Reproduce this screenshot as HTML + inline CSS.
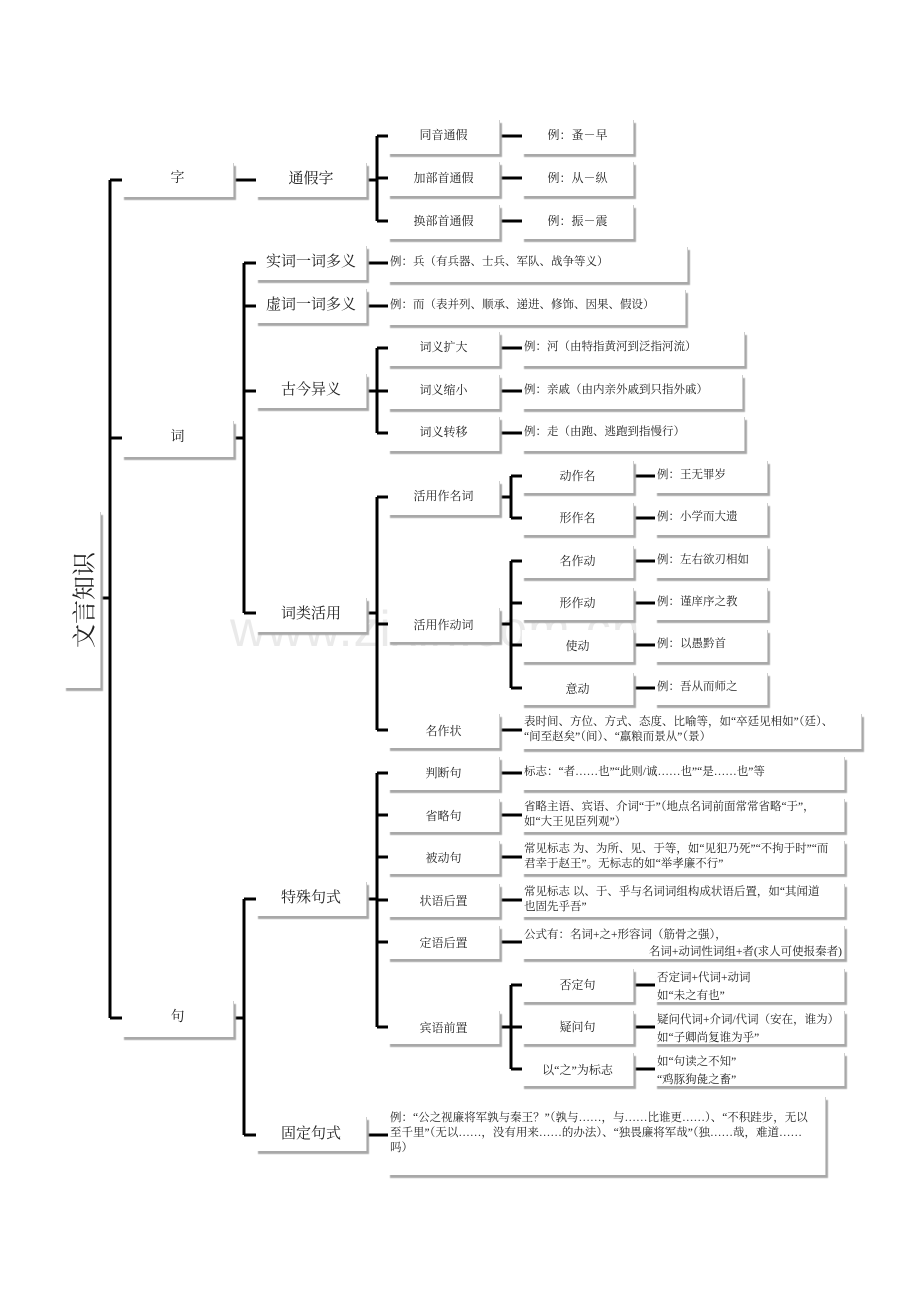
<!DOCTYPE html>
<html><head><meta charset="utf-8">
<style>
body{margin:0;background:#fff;}
#c{position:relative;width:920px;height:1302px;overflow:hidden;font-family:"Liberation Serif","Noto Serif CJK SC","Noto Sans CJK SC",serif;color:#222;}
.b{position:absolute;background:#fff;box-shadow:2px 3px 1px #a8a8a8;border-right:1px solid #ccc;box-sizing:border-box;font-size:12px;text-align:center;}
.l2{font-size:15px;}
.e{text-align:left;padding:1px 2px;line-height:15px;font-size:11.5px;}
svg{position:absolute;left:0;top:0;}
.wm{position:absolute;left:230px;top:600px;font-family:"Liberation Sans",sans-serif;font-size:50px;color:#000;opacity:0.08;letter-spacing:1px;}
</style></head><body><div id="c">
<svg width="920" height="1302"><g stroke="#000" stroke-width="3" fill="none">
<path d="M101 598H110M110 180V1018M110 180H122M110 438H122M110 1018H122"/>
<path d="M234 180H256M367 180H377M377 136V221M377 136H388M377 178H388M377 221H388M500 136H522M500 178H522M500 221H522"/>
<path d="M234 438H244M244 263V613M244 263H256M244 306H256M244 391H256M244 613H256M367 263H388M367 306H388"/>
<path d="M367 391H377M377 348V433M377 348H388M377 391H388M377 433H388M500 348H522M500 391H522M500 433H522"/>
<path d="M367 613H377M377 497V730M377 497H388M377 624H388M377 730H388M500 497H511M511 476V518M511 476H522M511 518H522M634 476H655M634 518H655"/>
<path d="M500 624H511M511 561V688M511 561H522M511 603H522M511 645H522M511 688H522M634 561H655M634 603H655M634 645H655M634 688H655M500 730H522"/>
<path d="M234 1018H244M244 899V1135M244 899H256M244 1135H256M367 899H377M377 773V1027M377 773H388M377 815H388M377 857H388M377 900H388M377 942H388M377 1027H388"/>
<path d="M500 773H522M500 815H522M500 857H522M500 900H522M500 942H522M500 1027H511M511 985V1069M511 985H522M511 1027H522M511 1069H522M634 985H655M634 1027H655M634 1069H655M367 1135H388"/>
</g></svg>
<div class="wm">www.zixin.com.cn</div>

<div class="b" style="left:64px;top:512px;width:37px;height:176px;"><div style="position:absolute;left:50%;top:50%;transform:translate(-50%,-50%) rotate(-90deg);font-size:24px;white-space:nowrap;">文言知识</div></div>

<div class="b l2" style="left:122px;top:163px;width:112px;height:34px;line-height:32px;font-size:14px;">字</div>
<div class="b l2" style="left:122px;top:421px;width:112px;height:36px;line-height:34px;font-size:14px;">词</div>
<div class="b l2" style="left:122px;top:1001px;width:112px;height:36px;line-height:34px;font-size:14px;">句</div>

<div class="b l2" style="left:256px;top:163px;width:111px;height:34px;line-height:32px;">通假字</div>
<div class="b l2" style="left:256px;top:246px;width:111px;height:34px;line-height:32px;">实词一词多义</div>
<div class="b l2" style="left:256px;top:289px;width:111px;height:34px;line-height:32px;">虚词一词多义</div>
<div class="b l2" style="left:256px;top:374px;width:111px;height:34px;line-height:32px;">古今异义</div>
<div class="b l2" style="left:256px;top:598px;width:111px;height:34px;line-height:32px;">词类活用</div>
<div class="b l2" style="left:256px;top:882px;width:111px;height:34px;line-height:32px;">特殊句式</div>
<div class="b l2" style="left:256px;top:1117px;width:111px;height:34px;line-height:34px;">固定句式</div>

<div class="b" style="left:388px;top:120px;width:112px;height:34px;line-height:30px;">同音通假</div>
<div class="b" style="left:388px;top:162px;width:112px;height:34px;line-height:32px;">加部首通假</div>
<div class="b" style="left:388px;top:205px;width:112px;height:34px;line-height:32px;">换部首通假</div>
<div class="b" style="left:522px;top:120px;width:112px;height:34px;line-height:30px;">例：蚤－早</div>
<div class="b" style="left:522px;top:162px;width:112px;height:34px;line-height:32px;">例：从－纵</div>
<div class="b" style="left:522px;top:205px;width:112px;height:34px;line-height:32px;">例：振－震</div>

<div class="b e" style="left:388px;top:247px;width:300px;height:35px;padding-top:8px;">例：兵（有兵器、士兵、军队、战争等义）</div>
<div class="b e" style="left:388px;top:290px;width:298px;height:35px;padding-top:8px;">例：而（表并列、顺承、递进、修饰、因果、假设）</div>

<div class="b" style="left:388px;top:332px;width:112px;height:34px;line-height:30px;">词义扩大</div>
<div class="b" style="left:388px;top:375px;width:112px;height:34px;line-height:30px;">词义缩小</div>
<div class="b" style="left:388px;top:417px;width:112px;height:34px;line-height:30px;">词义转移</div>
<div class="b e" style="left:522px;top:332px;width:223px;height:34px;padding-top:8px;">例：河（由特指黄河到泛指河流）</div>
<div class="b e" style="left:522px;top:375px;width:221px;height:34px;padding-top:8px;">例：亲戚（由内亲外戚到只指外戚）</div>
<div class="b e" style="left:522px;top:417px;width:223px;height:34px;padding-top:8px;">例：走（由跑、逃跑到指慢行）</div>

<div class="b" style="left:388px;top:481px;width:112px;height:34px;line-height:30px;">活用作名词</div>
<div class="b" style="left:388px;top:608px;width:112px;height:34px;line-height:34px;">活用作动词</div>
<div class="b" style="left:388px;top:714px;width:112px;height:34px;line-height:34px;">名作状</div>

<div class="b" style="left:522px;top:461px;width:112px;height:32px;line-height:30px;">动作名</div>
<div class="b" style="left:522px;top:503px;width:112px;height:32px;line-height:30px;">形作名</div>
<div class="b" style="left:522px;top:546px;width:112px;height:32px;line-height:30px;">名作动</div>
<div class="b" style="left:522px;top:588px;width:112px;height:32px;line-height:30px;">形作动</div>
<div class="b" style="left:522px;top:630px;width:112px;height:32px;line-height:32px;">使动</div>
<div class="b" style="left:522px;top:673px;width:112px;height:32px;line-height:32px;">意动</div>
<div class="b e" style="left:655px;top:461px;width:113px;height:32px;padding-top:7px;">例：王无罪岁</div>
<div class="b e" style="left:655px;top:503px;width:113px;height:32px;padding-top:7px;">例：小学而大遗</div>
<div class="b e" style="left:655px;top:546px;width:113px;height:32px;padding-top:7px;">例：左右欲刃相如</div>
<div class="b e" style="left:655px;top:588px;width:113px;height:32px;padding-top:7px;">例：谨庠序之教</div>
<div class="b e" style="left:655px;top:630px;width:113px;height:32px;padding-top:7px;">例：以愚黔首</div>
<div class="b e" style="left:655px;top:673px;width:113px;height:32px;padding-top:7px;">例：吾从而师之</div>
<div class="b e" style="left:522px;top:714px;width:340px;height:35px;">表时间、方位、方式、态度、比喻等，如“卒廷见相如”（廷）、<br>“间至赵矣”（间）、“羸粮而景从”（景）</div>

<div class="b" style="left:388px;top:757px;width:112px;height:33px;line-height:32px;">判断句</div>
<div class="b" style="left:388px;top:799px;width:112px;height:33px;line-height:34px;">省略句</div>
<div class="b" style="left:388px;top:841px;width:112px;height:33px;line-height:34px;">被动句</div>
<div class="b" style="left:388px;top:884px;width:112px;height:33px;line-height:34px;">状语后置</div>
<div class="b" style="left:388px;top:926px;width:112px;height:33px;line-height:34px;">定语后置</div>
<div class="b" style="left:388px;top:1011px;width:112px;height:33px;line-height:34px;">宾语前置</div>
<div class="b e" style="left:522px;top:757px;width:323px;height:33px;padding-top:8px;">标志：“者……也”“此则/诚……也”“是……也”等</div>
<div class="b e" style="left:522px;top:799px;width:323px;height:33px;">省略主语、宾语、介词“于”（地点名词前面常常省略“于”，<br>如“大王见臣列观”）</div>
<div class="b e" style="left:522px;top:841px;width:323px;height:33px;">常见标志 为、为所、见、于等，如“见犯乃死”“不拘于时”“而<br>君幸于赵王”。无标志的如“举孝廉不行”</div>
<div class="b e" style="left:522px;top:884px;width:323px;height:33px;">常见标志 以、于、乎与名词词组构成状语后置，如“其闻道<br>也固先乎吾”</div>
<div class="b e" style="left:522px;top:926px;width:323px;height:33px;line-height:17px;">公式有：名词+之+形容词（筋骨之强），<br><span style="display:block;text-align:right;">名词+动词性词组+者(求人可使报秦者)</span></div>

<div class="b" style="left:522px;top:969px;width:112px;height:33px;line-height:32px;">否定句</div>
<div class="b" style="left:522px;top:1011px;width:112px;height:33px;line-height:32px;">疑问句</div>
<div class="b" style="left:522px;top:1053px;width:112px;height:33px;line-height:34px;">以“之”为标志</div>
<div class="b e" style="left:655px;top:969px;width:190px;height:33px;line-height:18px;padding-top:0;">否定词+代词+动词<br>如“未之有也”</div>
<div class="b e" style="left:655px;top:1011px;width:190px;height:33px;line-height:18px;padding-top:0;">疑问代词+介词/代词（安在，谁为）<br>如“子卿尚复谁为乎”</div>
<div class="b e" style="left:655px;top:1053px;width:190px;height:33px;line-height:18px;padding-top:0;">如“句读之不知”<br>“鸡豚狗彘之畜”</div>

<div class="b e" style="left:388px;top:1097px;width:438px;height:78px;padding-top:14px;font-size:11.5px;white-space:nowrap;">例：“公之视廉将军孰与秦王？”（孰与……，与……比谁更……）、“不积跬步，无以<br>至千里”（无以……，没有用来……的办法）、“独畏廉将军哉”（独……哉，难道……<br>吗）</div>
</div></body></html>
